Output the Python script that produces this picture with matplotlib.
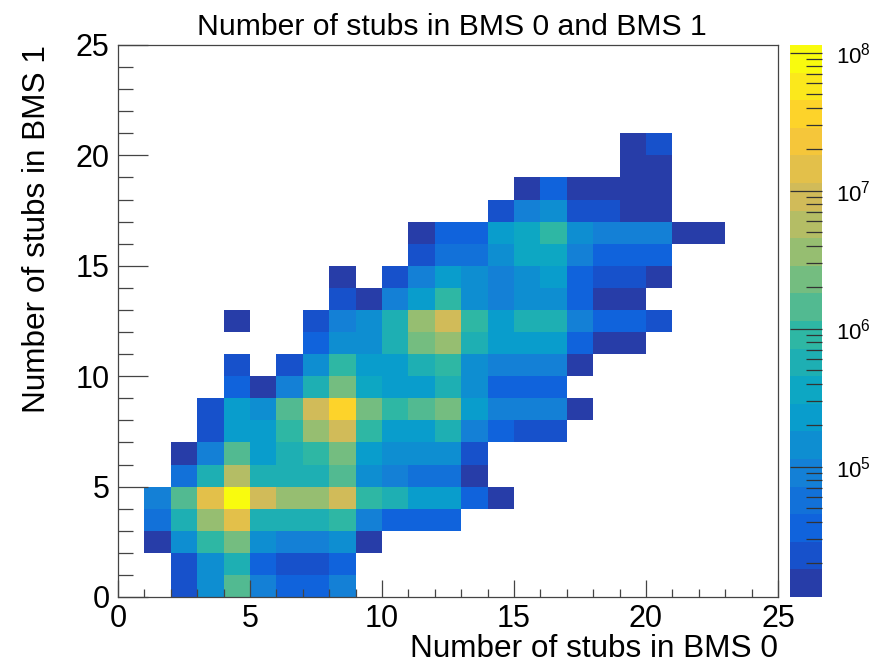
import numpy as np
import matplotlib
matplotlib.use("Agg")
import matplotlib.pyplot as plt
from matplotlib.colors import LinearSegmentedColormap, ListedColormap, LogNorm
from matplotlib.ticker import MultipleLocator, LogLocator, FuncFormatter, NullFormatter

plt.rcParams['font.family'] = ['Liberation Sans', 'DejaVu Sans']
plt.rcParams['mathtext.fontset'] = 'custom'
plt.rcParams['mathtext.rm'] = 'Liberation Sans'
plt.rcParams['mathtext.it'] = 'Liberation Sans:italic'
plt.rcParams['mathtext.bf'] = 'Liberation Sans:bold'

# ---------------- data ----------------
title = "Number of stubs in BMS 0 and BMS 1"
x_title = "Number of stubs in BMS 0"
y_title = "Number of stubs in BMS 1"

x_edges = list(range(0, 26))
y_edges = list(range(0, 26))

# first filled x bin of each y row, and the bin contents from there on (0 = empty)
row_x_start = [2, 2, 1, 1, 1, 2, 2, 3, 3, 4, 4, 7, 4, 8, 8, 11, 11, 14, 15, 19, 19]

counts_y0 = [2.3e4, 1.4e5, 1.4e6, 9.1e4, 3.6e4, 3.6e4, 9.1e4]
counts_y1 = [2.3e4, 1.4e5, 5.7e5, 3.6e4, 2.3e4, 2.3e4, 3.6e4]
counts_y2 = [1.4e4, 1.4e5, 9.1e5, 2.3e6, 1.4e5, 9.1e4, 9.1e4, 1.4e5, 1.4e4]
counts_y3 = [5.7e4, 5.7e5, 3.6e6, 1.4e7, 5.7e5, 5.7e5, 5.7e5, 9.1e5, 9.1e4, 3.6e4, 3.6e4, 3.6e4]
counts_y4 = [9.1e4, 1.4e6, 1.4e7, 1.0e8, 9.1e6, 3.6e6, 3.6e6, 9.1e6, 9.1e5, 5.7e5, 2.3e5, 2.3e5, 3.6e4, 1.4e4]
counts_y5 = [5.7e4, 5.7e5, 5.7e6, 5.7e5, 5.7e5, 5.7e5, 1.4e6, 1.4e5, 9.1e4, 5.7e4, 5.7e4, 1.4e4]
counts_y6 = [1.4e4, 9.1e4, 1.4e6, 2.3e5, 5.7e5, 9.1e5, 2.3e6, 2.3e5, 1.4e5, 1.4e5, 1.4e5, 2.3e4]
counts_y7 = [2.3e4, 2.3e5, 2.3e5, 9.1e5, 3.6e6, 9.1e6, 9.1e5, 2.3e5, 2.3e5, 5.7e5, 9.1e4, 3.6e4, 2.3e4, 2.3e4]
counts_y8 = [2.3e4, 2.3e5, 1.4e5, 1.4e6, 9.1e6, 3.6e7, 2.3e6, 9.1e5, 1.4e6, 2.3e6, 2.3e5, 9.1e4, 9.1e4, 9.1e4, 1.4e4]
counts_y9 = [3.6e4, 1.4e4, 9.1e4, 5.7e5, 2.3e6, 3.6e5, 2.3e5, 2.3e5, 5.7e5, 1.4e5, 3.6e4, 3.6e4, 3.6e4]
counts_y10 = [2.3e4, 0, 2.3e4, 1.4e5, 9.1e5, 2.3e5, 2.3e5, 5.7e5, 9.1e5, 1.4e5, 9.1e4, 9.1e4, 9.1e4, 1.4e4]
counts_y11 = [3.6e4, 1.4e5, 1.4e5, 5.7e5, 2.3e6, 3.6e6, 5.7e5, 2.3e5, 2.3e5, 2.3e5, 3.6e4, 1.4e4, 1.4e4]
counts_y12 = [1.4e4, 0, 0, 2.3e4, 9.1e4, 1.4e5, 5.7e5, 3.6e6, 9.1e6, 9.1e5, 2.3e5, 5.7e5, 5.7e5, 9.1e4, 3.6e4, 3.6e4, 2.3e4]
counts_y13 = [2.3e4, 1.4e4, 9.1e4, 2.3e5, 9.1e5, 1.4e5, 9.1e4, 1.4e5, 1.4e5, 3.6e4, 1.4e4, 1.4e4]
counts_y14 = [1.4e4, 0, 2.3e4, 9.1e4, 2.3e5, 1.4e5, 9.1e4, 1.4e5, 2.3e5, 3.6e4, 2.3e4, 2.3e4, 1.4e4]
counts_y15 = [2.3e4, 5.7e4, 5.7e4, 1.4e5, 3.6e5, 3.6e5, 9.1e4, 3.6e4, 3.6e4, 3.6e4]
counts_y16 = [1.4e4, 3.6e4, 3.6e4, 2.3e5, 3.6e5, 9.1e5, 1.4e5, 9.1e4, 9.1e4, 9.1e4, 1.4e4, 1.4e4]
counts_y17 = [2.3e4, 9.1e4, 1.4e5, 2.3e4, 2.3e4, 1.4e4, 1.4e4]
counts_y18 = [1.4e4, 3.6e4, 1.4e4, 1.4e4, 1.4e4, 1.4e4]
counts_y19 = [1.4e4, 1.4e4]
counts_y20 = [1.4e4, 2.3e4]

z_min = 1.14e4
z_max = 1.14e8
n_contours = 20

rows = [counts_y0, counts_y1, counts_y2, counts_y3, counts_y4, counts_y5, counts_y6,
        counts_y7, counts_y8, counts_y9, counts_y10, counts_y11, counts_y12, counts_y13,
        counts_y14, counts_y15, counts_y16, counts_y17, counts_y18, counts_y19, counts_y20]

H = np.zeros((len(y_edges) - 1, len(x_edges) - 1))
for j, (x0, vals) in enumerate(zip(row_x_start, rows)):
    for k, v in enumerate(vals):
        H[j, x0 + k] = v
Hm = np.ma.masked_where(H <= 0, H)

# ROOT kBird palette, 20 contour bands
stops = np.linspace(0, 1, 9)
red = [0.2082, 0.0592, 0.0780, 0.0232, 0.1802, 0.5301, 0.8186, 0.9956, 0.9764]
green = [0.1664, 0.3599, 0.5041, 0.6419, 0.7178, 0.7492, 0.7328, 0.7862, 0.9832]
blue = [0.5293, 0.8684, 0.8385, 0.7914, 0.6425, 0.4662, 0.3499, 0.1968, 0.0539]
bird = LinearSegmentedColormap.from_list(
    "bird", list(zip(stops, zip(red, green, blue))), N=255)
band_pos = [min(1.0, int(0.01 + (i + 0.99) * 255 / n_contours) / 254.0) for i in range(n_contours)]
cmap = ListedColormap([bird(p) for p in band_pos])
norm = LogNorm(vmin=z_min, vmax=z_max)

# ---------------- figure ----------------
W, Hpx = 885, 670
fig = plt.figure(figsize=(W / 100, Hpx / 100), dpi=100)
ax = fig.add_axes([118 / W, 73 / Hpx, 660 / W, 552 / Hpx])
cax = fig.add_axes([790 / W, 73 / Hpx, 32 / W, 552 / Hpx])

mesh = ax.pcolormesh(x_edges, y_edges, Hm, cmap=cmap, norm=norm,
                     edgecolors='none', antialiased=False, rasterized=False)
ax.set_xlim(0, 25)
ax.set_ylim(0, 25)

line_col = '#444444'
for sp in ax.spines.values():
    sp.set_color(line_col)
    sp.set_linewidth(0.9)

ax.xaxis.set_major_locator(MultipleLocator(5))
ax.xaxis.set_minor_locator(MultipleLocator(1))
ax.yaxis.set_major_locator(MultipleLocator(5))
ax.yaxis.set_minor_locator(MultipleLocator(1))
ax.tick_params(axis='both', which='both', direction='in', top=False, right=False,
               color=line_col, width=0.9, labelsize=22)
ax.tick_params(axis='x', which='major', length=12.2, pad=5)
ax.tick_params(axis='x', which='minor', length=6.1)
ax.tick_params(axis='y', which='major', length=21.6, pad=6)
ax.tick_params(axis='y', which='minor', length=10.8)

fig.text(452 / W, 1 - 35 / Hpx, title, ha='center', va='baseline', fontsize=21.7)
fig.text(778 / W, 13 / Hpx, x_title, ha='right', va='baseline', fontsize=22.7)
fig.text(45 / W, 1 - 45 / Hpx, y_title, ha='right', va='baseline', fontsize=22.7,
         rotation=90, rotation_mode='anchor')

cb = fig.colorbar(mesh, cax=cax)
cb.outline.set_visible(False)
cax.yaxis.set_major_locator(LogLocator(base=10, numticks=10))
cax.yaxis.set_minor_locator(LogLocator(base=10, subs=np.arange(2, 10), numticks=20))
cax.yaxis.set_major_formatter(FuncFormatter(lambda v, p: r'$\mathregular{10^{%d}}$' % round(np.log10(v))))
cax.yaxis.set_minor_formatter(NullFormatter())
cax.tick_params(axis='y', which='both', direction='in', color='#333333', width=0.9,
                labelsize=16, pad=10, right=True, left=False)
cax.tick_params(axis='y', which='major', length=23)
cax.tick_params(axis='y', which='minor', length=11.5)

fig.savefig("out.png", dpi=100, facecolor='white')
